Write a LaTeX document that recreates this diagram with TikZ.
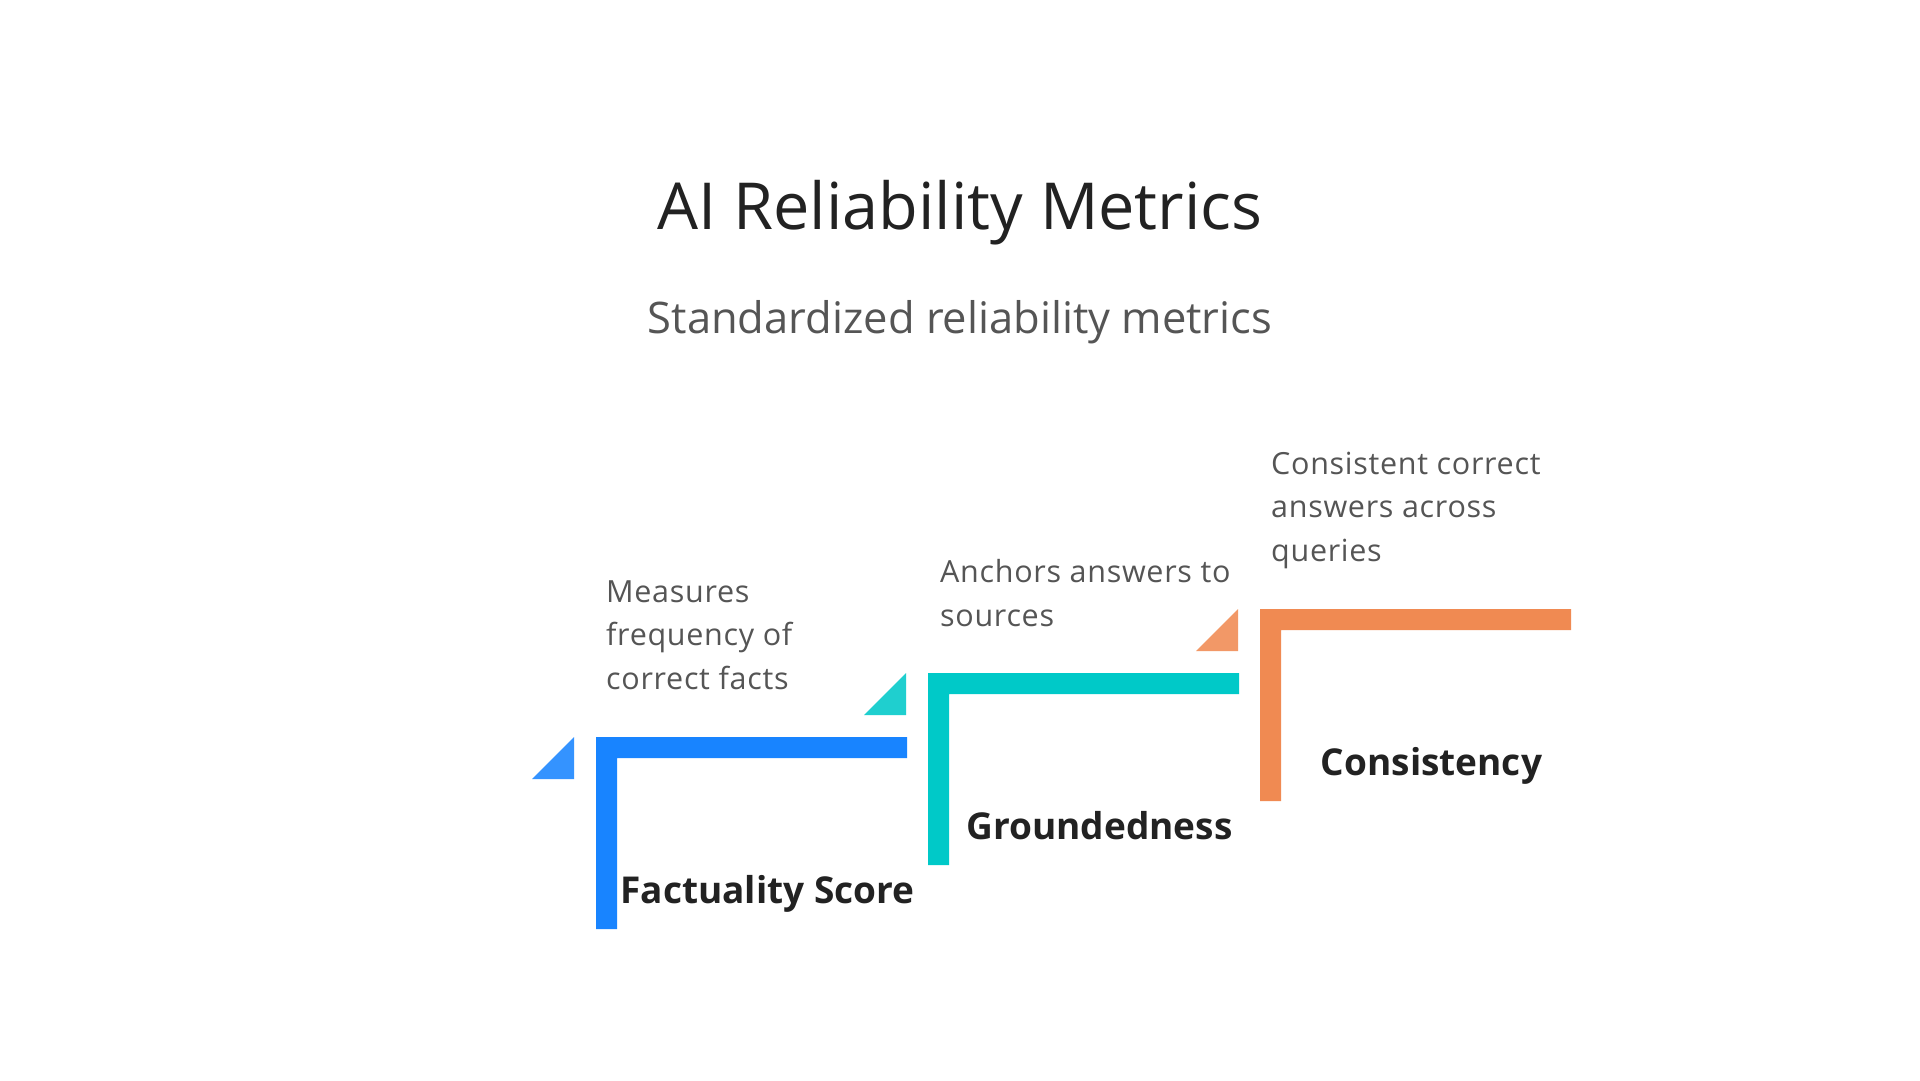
\documentclass[tikz,border=0pt]{standalone}
\usepackage{fontspec}
\setmainfont{Open Sans}
\definecolor{relblue}{RGB}{24,132,255}
\definecolor{relteal}{RGB}{0,201,200}
\definecolor{relorange}{RGB}{240,138,82}
\definecolor{relink}{RGB}{34,34,34}
\definecolor{relgray}{RGB}{85,85,85}

\begin{document}
\begin{tikzpicture}[x=1pt,y=-1pt,
 headline/.style={font=\fontsize{64.8}{76}\selectfont,text=relink,inner sep=0pt,anchor=base},
 subline/.style={font=\fontsize{43.5}{52}\selectfont,text=relgray,inner sep=0pt,anchor=base},
 metric/.style={font=\fontsize{37}{44}\selectfont\bfseries,text=relink,inner sep=0pt,anchor=base},
 note/.style={font=\fontsize{30.5}{43.5}\selectfont\addfontfeature{LetterSpace=2.3},text=relgray,
  inner sep=0pt,align=left,anchor=base west},
 wedge/.style={fill=#1!88!white}]
\useasboundingbox (0,0) rectangle (1920,1080);
\fill[white] (0,0) rectangle (1920,1080);

\node[headline] (title) at (960,229) {AI Reliability Metrics};
\node[subline] (subtitle) at (960,333) {Standardized reliability metrics};

% step 1
\fill[relblue] (596,737) -- (907,737) -- (907,758) -- (617,758) -- (617,929) -- (596,929) -- cycle;
\fill[wedge=relblue] (574,737) -- (574,779) -- (532,779) -- cycle;
\node[metric] (fact) at (767.5,903) {Factuality Score};
\node[note] (factnote) at (606,689) {Measures\\frequency of\\correct facts};

% step 2
\fill[relteal] (928,673) -- (1239,673) -- (1239,694) -- (949,694) -- (949,865) -- (928,865) -- cycle;
\fill[wedge=relteal] (906,673) -- (906,715) -- (864,715) -- cycle;
\node[metric] (ground) at (1099.5,839) {Groundedness};
\node[note] (groundnote) at (940,626) {Anchors answers to\\sources};

% step 3
\fill[relorange] (1260,609) -- (1571,609) -- (1571,630) -- (1281,630) -- (1281,801) -- (1260,801) -- cycle;
\fill[wedge=relorange] (1238,609) -- (1238,651) -- (1196,651) -- cycle;
\node[metric] (consist) at (1431.5,775) {Consistency};
\node[note] (consistnote) at (1271,561) {Consistent correct\\answers across\\queries};
\end{tikzpicture}
\end{document}
